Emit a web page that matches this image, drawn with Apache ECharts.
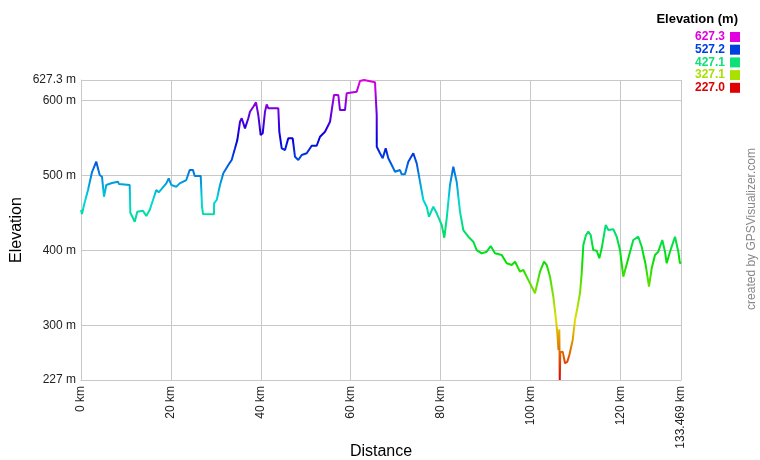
<!DOCTYPE html>
<html>
<head>
<meta charset="utf-8">
<script src="https://cdn.jsdelivr.net/npm/echarts@6/dist/echarts.min.js"></script>
<style>html,body{margin:0;padding:0;background:#fff}#c{width:760px;height:460px}</style>
</head>
<body>
<div id="c"></div>
<script>
const distanceKm = [0,0.22,0.67,1.56,2.45,3.40,4.16,4.67,5.12,5.63,6.90,8.23,8.45,10.83,10.97,11.57,11.95,12.52,13.79,14.53,15.28,16.75,17.28,18.98,19.51,20.09,21.20,21.96,23.42,24.18,24.91,25.29,26.63,26.92,27.14,29.59,29.60,30.19,30.92,31.66,32.77,33.52,34.26,34.77,35.37,35.75,36.48,37.22,37.59,38.33,38.93,39.44,39.97,40.42,40.93,41.31,41.67,42.04,43.89,44.11,44.65,45.38,46.11,47.09,47.60,48.34,49.10,50.21,51.32,52.43,53.17,54.28,55.39,56.28,57.24,57.61,58.73,59.10,61.33,62.06,62.95,65.40,65.78,65.79,66.51,67.11,67.78,68.36,69.12,69.85,70.96,71.34,72.07,72.81,73.92,74.68,75.41,76.15,76.90,77.41,78.37,79.13,80.24,80.82,81.35,82.08,82.82,83.57,84.31,85.04,86.16,87.27,88.02,89.14,90.25,91.14,92.09,93.58,94.70,95.81,96.55,97.66,98.40,99.88,100.99,102.10,103.00,103.60,104.33,105.07,105.67,105.96,106.22,106.40,106.50,106.62,107.16,107.67,108.18,108.63,109.38,109.89,110.40,111.00,111.38,111.74,112.34,112.85,113.38,113.96,114.72,115.30,115.83,116.72,117.30,118.41,119.17,119.90,120.64,121.01,121.75,122.86,123.97,124.73,125.62,126.35,126.95,127.69,128.42,129.31,129.91,130.29,131.02,132.14,132.51,132.87,133.24,133.469];
const elevationM = [453.8,448.5,460.5,480.5,504.5,518.3,500.5,498.2,471.6,487.2,489.8,491.6,488.5,487.2,450.2,443.1,438.2,451.6,452.9,445.8,453.8,480.5,477.4,489.4,496.1,487.2,484.9,489.4,493.8,507.2,507.2,499.2,499.2,458.2,448.5,448.1,462.8,467.2,487.2,502.8,513.9,520.5,536.1,547.2,571.6,576.2,562.8,576.2,585.0,591.6,597.5,580.6,553.9,556.2,585.0,594.8,589.5,591.6,589.5,558.3,536.1,533.9,549.5,549.5,524.9,520.5,527.2,529.5,539.6,539.6,551.6,558.3,571.6,607.3,607.3,587.2,587.2,609.5,611.7,625.9,627.3,624.2,580.6,538.3,529.5,522.8,536.1,522.8,513.9,504.9,507.2,501.4,501.4,518.3,529.5,516.1,491.6,467.2,458.2,444.9,458.2,449.4,433.8,416.9,442.7,487.2,511.6,491.6,451.6,427.1,418.2,411.5,400.4,396.0,398.2,405.8,396.0,393.8,382.7,380.4,384.8,371.5,373.8,356.0,342.7,371.5,384.8,380.4,364.8,338.1,307.1,289.3,267.0,294.6,227.0,264.4,264.8,249.3,251.4,260.4,280.4,307.1,322.7,342.7,369.4,407.1,420.5,424.9,420.5,400.4,399.5,389.4,402.7,433.8,427.1,428.1,418.2,400.4,364.8,367.1,389.4,413.8,418.2,404.8,380.4,351.5,376.0,393.8,398.2,413.8,398.2,382.7,398.2,418.2,420.5,398.2,382.7,384.4];
const yTicks = [227, 300, 400, 500, 600, 627.3];
const xTicks = [0, 20, 40, 60, 80, 100, 120, 133.469];
const legendValues = ['627.3', '527.2', '427.1', '327.1', '227.0'];
const legendColors = ['#e000e0', '#0040e0', '#10e078', '#a8e000', '#e00000'];
const rampColors = ['#e00000','#e07000','#e0e000','#70e000','#00e000','#00e070','#00d8d8','#0070e0','#0000e0','#7000e0','#e000e0'];

const chart = echarts.init(document.getElementById('c'), null, {renderer: 'canvas'});
const font = 'Arial, "Liberation Sans", sans-serif';
const graphics = [
  {type: 'text', right: 22, top: 13, style: {text: 'Elevation (m)', font: 'bold 13px ' + font, fill: '#000'}}
];
legendValues.forEach((v, i) => {
  const yc = 37 + i * 12.7;
  graphics.push({type: 'text', x: 725, y: yc, style: {text: v, font: 'bold 12px ' + font, fill: legendColors[i], align: 'right', verticalAlign: 'middle'}});
  graphics.push({type: 'rect', shape: {x: 730, y: yc - 5, width: 10, height: 10}, style: {fill: legendColors[i]}});
});
graphics.push({type: 'text', x: 752, y: 229, rotation: Math.PI / 2, style: {text: 'created by GPSVisualizer.com', font: '12px ' + font, fill: '#888', align: 'center', verticalAlign: 'middle'}});

chart.setOption({
  backgroundColor: '#fff',
  animation: false,
  grid: {left: 81, right: 79, top: 80, bottom: 80, containLabel: false, outerBoundsMode: 'none'},
  xAxis: {
    type: 'value', min: 0, max: 133.469,
    name: 'Distance', nameLocation: 'middle', nameGap: 64, nameMoveOverlap: false,
    nameTextStyle: {fontSize: 16, color: '#000', fontFamily: font},
    axisLine: {show: true, lineStyle: {color: '#c8c8c8'}},
    axisTick: {show: false, customValues: xTicks},
    axisLabel: {customValues: xTicks, rotate: 90, margin: 6, fontSize: 12, color: '#222', fontFamily: font,
      formatter: v => v + ' km'},
    splitLine: {show: true, lineStyle: {color: '#c8c8c8', width: 1}}
  },
  yAxis: {
    type: 'value', min: 227, max: 627.3,
    name: 'Elevation', nameLocation: 'middle', nameGap: 56, nameRotate: 90, nameMoveOverlap: false,
    nameTextStyle: {fontSize: 16, color: '#000', fontFamily: font},
    axisLine: {show: true, lineStyle: {color: '#c8c8c8'}},
    axisTick: {show: false, customValues: yTicks},
    axisLabel: {customValues: yTicks, margin: 5, fontSize: 12, color: '#222', fontFamily: font,
      formatter: v => v + ' m'},
    splitLine: {show: true, lineStyle: {color: '#c8c8c8', width: 1}}
  },
  visualMap: {
    show: false, type: 'continuous', dimension: 1, seriesIndex: 0,
    min: 227, max: 627.3, inRange: {color: rampColors}
  },
  series: [{
    type: 'line',
    data: distanceKm.map((d, i) => [d, elevationM[i]]),
    showSymbol: false, symbol: 'none',
    lineStyle: {width: 2},
    z: 5
  }],
  graphic: graphics
});
</script>
</body>
</html>
